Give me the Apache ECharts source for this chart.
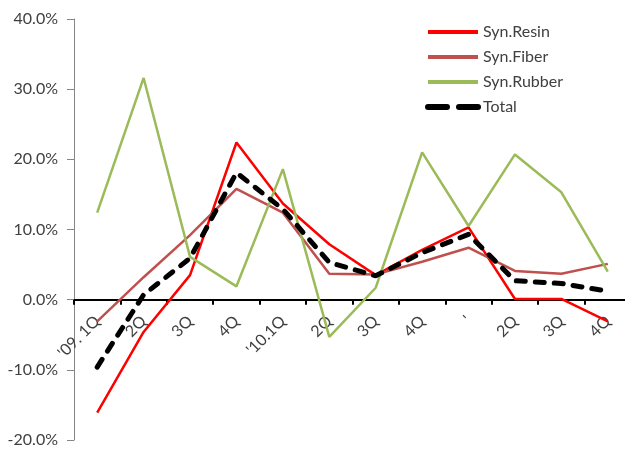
<!DOCTYPE html>
<html>
<head>
<meta charset="utf-8">
<script src="https://cdn.jsdelivr.net/npm/echarts@6/dist/echarts.min.js"></script>
<style>
  html, body { margin: 0; padding: 0; background: #fff; }
  #chart { width: 625px; height: 449px; }
</style>
</head>
<body>
<div id="chart"></div>
<script>
var categories = ["'09. 1Q", '2Q', '3Q', '4Q', "'10.1Q", '2Q', '3Q', '4Q', "'", '2Q', '3Q', '4Q'];
var synResin = [-16.1, -4.6, 3.5, 22.4, 13.7, 7.9, 3.5, 7.1, 10.3, 0.1, 0.1, -3.1];
var synFiber = [-3.1, 3.2, 9.2, 15.8, 12.4, 3.7, 3.6, 5.4, 7.4, 4.1, 3.7, 5.1];
var synRubber = [12.4, 31.6, 6.1, 1.9, 18.6, -5.3, 1.7, 21.0, 10.5, 20.7, 15.3, 4.0];
var total = [-9.6, 0.7, 5.9, 18.1, 12.9, 5.3, 3.4, 6.7, 9.3, 2.7, 2.3, 1.2];
var yTicks = { min: -20, max: 40, interval: 10 };

var font = 'Lato, "Open Sans", sans-serif';
var gridTop = 19, gridHeight = 421;
// x axis sits on the zero line: move it up from the grid bottom
var zeroOffset = -gridHeight * (0 - yTicks.min) / (yTicks.max - yTicks.min);

var chart = echarts.init(document.getElementById('chart'));

function line(name, data, color, width, dash) {
  return {
    name: name,
    type: 'line',
    data: data,
    symbol: 'none',
    animation: false,
    lineStyle: { color: color, width: width, type: dash || 'solid', cap: dash ? 'round' : 'butt' },
    itemStyle: { color: color },
    z: dash ? 4 : 3
  };
}

chart.setOption({
  backgroundColor: '#fff',
  textStyle: { fontFamily: font },
  grid: { left: 74, top: gridTop, width: 557, height: gridHeight, containLabel: false, outerBoundsMode: 'none' },
  legend: {
    orient: 'vertical',
    left: 420,
    top: 19,
    itemWidth: 50,
    itemHeight: 14,
    itemGap: 9,
    itemStyle: { opacity: 0 },
    textStyle: { fontFamily: font, fontSize: 16, lineHeight: 16, color: '#404040' },
    data: [
      { name: 'Syn.Resin', lineStyle: { width: 4 } },
      { name: 'Syn.Fiber', lineStyle: { width: 4 } },
      { name: 'Syn.Rubber', lineStyle: { width: 4 } },
      { name: 'Total', lineStyle: { width: 6, type: [19, 12], cap: 'round' } }
    ]
  },
  xAxis: {
    type: 'category',
    data: categories,
    boundaryGap: true,
    position: 'bottom',
    offset: zeroOffset,
    axisLine: { onZero: false, lineStyle: { color: '#000', width: 2 } },
    axisTick: { show: true, length: 5, lineStyle: { color: '#000', width: 2 } },
    axisLabel: { rotate: 45, fontSize: 16, color: '#404040', margin: 19, fontFamily: font, interval: 0 },
    splitLine: { show: false }
  },
  yAxis: {
    type: 'value',
    min: yTicks.min,
    max: yTicks.max,
    interval: yTicks.interval,
    axisLine: { show: true, lineStyle: { color: '#868686', width: 1 } },
    axisTick: { show: true, length: 7, lineStyle: { color: '#868686' } },
    axisLabel: {
      fontSize: 16, color: '#404040', margin: 16, fontFamily: font,
      formatter: function (v) { return v.toFixed(1) + '%'; }
    },
    splitLine: { show: false }
  },
  series: [
    line('Syn.Resin', synResin, '#ff0000', 2.5),
    line('Syn.Fiber', synFiber, '#c0504d', 2.5),
    line('Syn.Rubber', synRubber, '#9bbb59', 2.5),
    line('Total', total, '#000000', 5, [9, 10])
  ]
});
</script>
</body>
</html>
